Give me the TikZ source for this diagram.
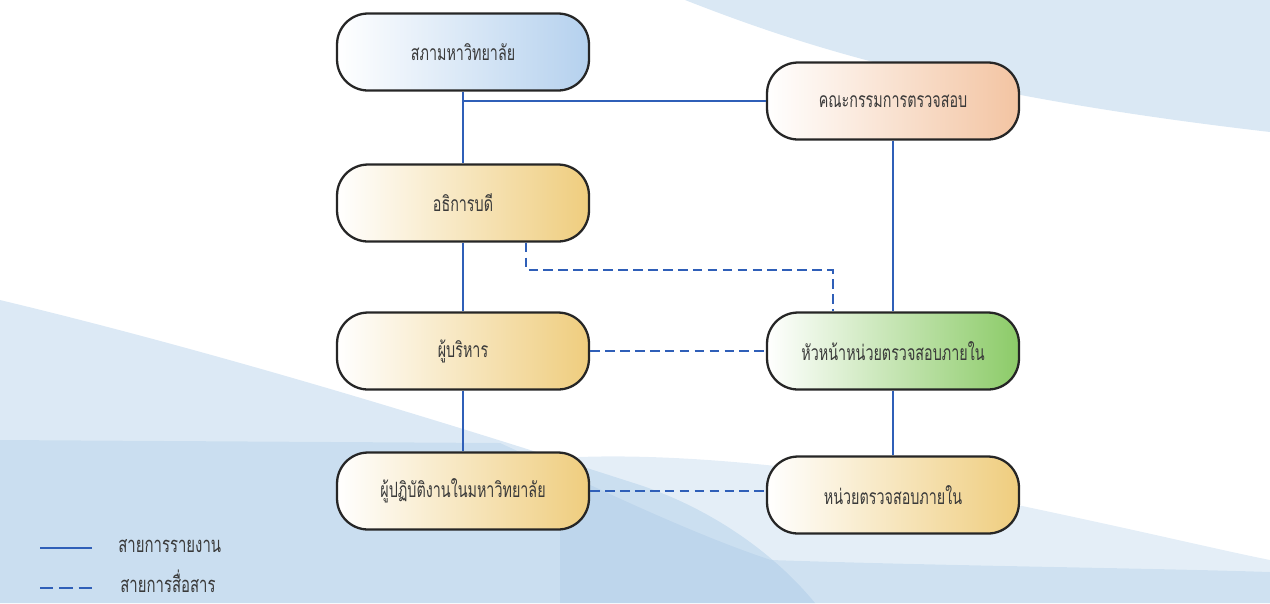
\documentclass[tikz,border=0pt]{standalone}
\usepackage{fontspec}
\newfontfamily\thaifont[Script=Thai,FakeStretch=0.68]{Loma}
\definecolor{bgblue}{HTML}{9FC3E3}
\definecolor{linkblue}{HTML}{2F5FB8}
\definecolor{txt}{HTML}{3A3A3A}
\definecolor{fblue}{HTML}{B5D1EE}
\definecolor{fpeach}{HTML}{F3C4A2}
\definecolor{fgold}{HTML}{EFCD7E}
\definecolor{fgreen}{HTML}{8CCB68}
\tikzset{
  orgbox/.style={draw=black!85, line width=1.3pt, rounded corners=0.62cm,
    minimum width=5.04cm, minimum height=1.54cm, inner sep=0pt,
    font=\thaifont\fontsize{12}{14}\selectfont, text=txt, left color=white},
  report/.style={draw=linkblue, line width=1.3pt},
  comm/.style={draw=linkblue, line width=1.3pt, dash pattern=on 5.5pt off 3pt},
  legendtext/.style={font=\thaifont\fontsize{12.5}{14}\selectfont, text=txt, anchor=west, inner sep=0pt}
}
\begin{document}
\begin{tikzpicture}[x=0.02cm,y=-0.02cm]
\useasboundingbox (0,0) rectangle (1270,603);
% background waves
\fill[bgblue,opacity=0.38] (685,0) .. controls (800,45) and (950,95) .. (1270,132) -- (1270,0) -- cycle;
\fill[bgblue,opacity=0.36] (0,300) .. controls (250,360) and (500,440) .. (640,485) .. controls (720,512) and (780,560) .. (815,603) -- (0,603) -- cycle;
\fill[bgblue,opacity=0.28] (560,458) .. controls (650,452) and (820,462) .. (1027,507) .. controls (1150,533) and (1220,550) .. (1270,560) -- (1270,603) -- (560,603) -- cycle;
\fill[bgblue,opacity=0.3] (0,440) -- (500,443) .. controls (560,470) and (680,530) .. (771,560) .. controls (950,566) and (1150,568) .. (1270,572) -- (1270,603) -- (0,603) -- cycle;
% nodes
\node[orgbox, right color=fblue] (sapha) at (463,52) {สภามหาวิทยาลัย};
\node[orgbox, right color=fpeach] (kana) at (893,101) {คณะกรรมการตรวจสอบ};
\node[orgbox, right color=fgold] (athi) at (463,203) {อธิการบดี};
\node[orgbox, right color=fgold] (bori) at (463,351) {ผู้บริหาร};
\node[orgbox, right color=fgreen] (huana) at (893,351) {หัวหน้าหน่วยตรวจสอบภายใน};
\node[orgbox, right color=fgold] (pati) at (463,491) {ผู้ปฏิบัติงานในมหาวิทยาลัย};
\node[orgbox, right color=fgold] (nuay) at (893,495) {หน่วยตรวจสอบภายใน};
% reporting lines
\draw[report] (sapha) -- (athi);
\draw[report] (kana.west) -| (sapha.south);
\draw[report] (athi) -- (bori);
\draw[report] (bori) -- (pati);
\draw[report] (kana) -- (huana);
\draw[report] (huana) -- (nuay);
% communication lines
\coordinate (c1) at (526,270);
\coordinate (c2) at (833,270);
\draw[comm] (athi.south -| c1) -- (c1) -- (c2) -- (huana.north -| c2);
\draw[comm] (bori) -- (huana);
\draw[comm] (pati.east) -- (nuay.west |- pati.east);
% legend
\coordinate (l1a) at (40,548);
\coordinate (l1b) at (92,548);
\coordinate (l2a) at (40,588);
\coordinate (l2b) at (92,588);
\draw[report, line width=1.6pt] (l1a) -- (l1b);
\draw[comm, line width=1.6pt, dash pattern=on 7.6pt off 3.4pt] (l2a) -- (l2b);
\node[legendtext] (lt1) at (118,546) {สายการรายงาน};
\node[legendtext] (lt2) at (120,581) {สายการสื่อสาร};
\end{tikzpicture}
\end{document}
